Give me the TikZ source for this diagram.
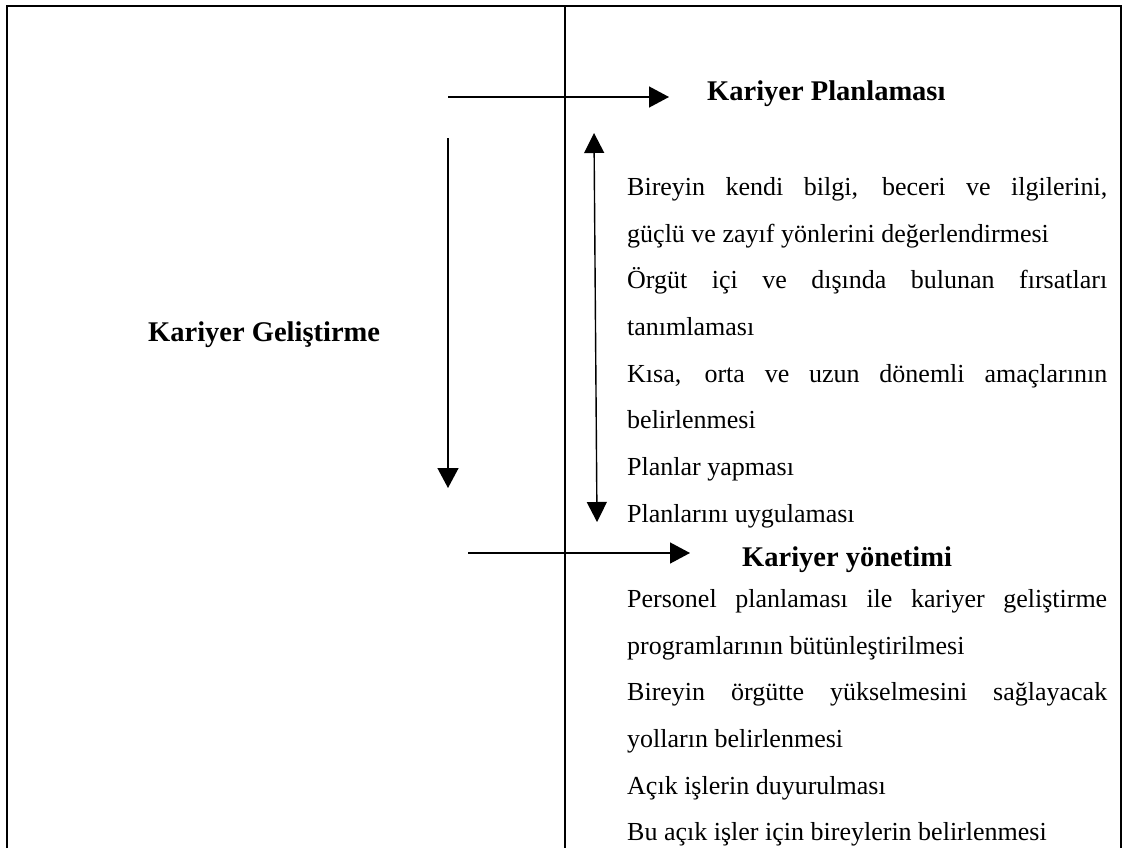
\documentclass[tikz,border=0pt]{standalone}
\usepackage{fontspec}
\setmainfont{Liberation Serif}
\usetikzlibrary{arrows.meta}
\newcommand\fullline[1]{\makebox[480pt][s]{#1}}
\begin{document}
\begin{tikzpicture}[x=1pt,y=-1pt,
  frame/.style={line width=2pt},
  divider/.style={line width=1.4pt},
  conn/.style={line width=1.4pt,-{Triangle[length=20pt,width=21pt]}},
  twoway/.style={line width=1.4pt,{Triangle[length=20pt,width=20pt]}-{Triangle[length=20pt,width=20pt]}},
  head/.style={font=\fontsize{28.5}{34}\selectfont\bfseries,anchor=base west,inner sep=0pt},
  body/.style={font=\fontsize{26}{32}\selectfont,anchor=base west,inner sep=0pt},
]
\useasboundingbox (0,0) rectangle (1123,848);

% open frame and the column divider
\draw[frame] (7,848) -- (7,6) -- (1121,6) -- (1121,848);
\draw[divider] (565,6) -- (565,848);

% headings
\node[head] (plan) at (707,101) {Kariyer Planlaması};
\node[head] (gel)  at (148,341) {Kariyer Geliştirme};
\node[head] (yon)  at (742,566) {Kariyer yönetimi};

% career planning steps
\node[body] (p1) at (627,195) {\fullline{Bireyin kendi bilgi, beceri ve ilgilerini,}};
\node[body] (p2) at (627,242) {güçlü ve zayıf yönlerini değerlendirmesi};
\node[body] (p3) at (627,288) {\fullline{Örgüt içi ve dışında bulunan fırsatları}};
\node[body] (p4) at (627,335) {tanımlaması};
\node[body] (p5) at (627,382) {\fullline{Kısa, orta ve uzun dönemli amaçlarının}};
\node[body] (p6) at (627,428) {belirlenmesi};
\node[body] (p7) at (627,475) {Planlar yapması};
\node[body] (p8) at (627,522) {Planlarını uygulaması};

% career management steps
\node[body] (m1) at (627,607) {\fullline{Personel planlaması ile kariyer geliştirme}};
\node[body] (m2) at (627,654) {programlarının bütünleştirilmesi};
\node[body] (m3) at (627,700) {\fullline{Bireyin örgütte yükselmesini sağlayacak}};
\node[body] (m4) at (627,747) {yolların belirlenmesi};
\node[body] (m5) at (627,794) {Açık işlerin duyurulması};
\node[body] (m6) at (627,840) {Bu açık işler için bireylerin belirlenmesi};

% arrow end points
\coordinate (t0) at (448,97);
\coordinate (t1) at (669,97);
\coordinate (d0) at (448,138);
\coordinate (d1) at (448,488);
\coordinate (u0) at (594,133);
\coordinate (u1) at (597,522);
\coordinate (b0) at (468,553);
\coordinate (b1) at (690,553);

\draw[conn] (t0) -- (t1);
\draw[conn] (d0) -- (d1);
\draw[twoway] (u0) -- (u1);
\draw[conn] (b0) -- (b1);
\end{tikzpicture}
\end{document}
